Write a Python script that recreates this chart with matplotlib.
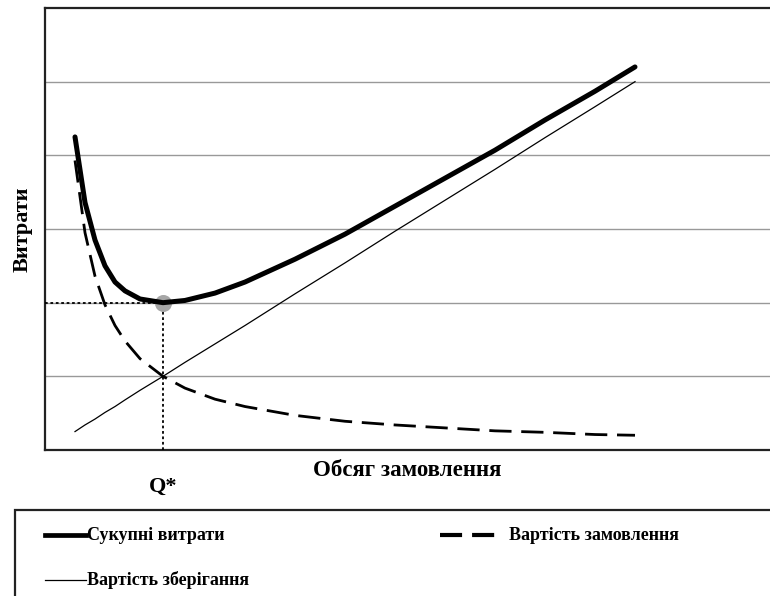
import matplotlib
matplotlib.use("Agg")
import matplotlib.pyplot as plt
from matplotlib.lines import Line2D
from matplotlib.patches import Rectangle

plt.rcParams['font.family'] = ['Liberation Serif', 'DejaVu Serif']
plt.rcParams['font.weight'] = 'bold'

# ---- data ----
order_qty = [30, 40, 50, 60, 70, 80, 95, 118, 140, 170, 200, 250, 300, 350, 400, 450, 500, 550, 590]
order_cost = [3.93, 2.95, 2.36, 1.97, 1.69, 1.48, 1.24, 1.00, 0.84, 0.69, 0.59, 0.47, 0.39, 0.34,
              0.30, 0.26, 0.24, 0.21, 0.20]
storage_cost = [0.25, 0.34, 0.42, 0.51, 0.59, 0.68, 0.81, 1.00, 1.19, 1.44, 1.69, 2.12, 2.54, 2.97,
                3.39, 3.81, 4.24, 4.66, 5.00]
total_cost = [4.25, 3.36, 2.85, 2.50, 2.28, 2.16, 2.05, 2.00, 2.03, 2.13, 2.28, 2.59, 2.93, 3.31,
              3.69, 4.07, 4.48, 4.87, 5.20]
q_star = 118
cost_min = 2.00

labels = ["Сукупні витрати", "Вартість замовлення", "Вартість зберігання"]

W, H = 770, 596
fig = plt.figure(figsize=(W / 100, H / 100), dpi=100)
ax = fig.add_axes([45 / W, 1 - 450 / H, 1 - 45 / W, (450 - 8) / H])

ax.set_xlim(0, 725)
ax.set_ylim(0, 6)
ax.set_yticks([1, 2, 3, 4, 5])
ax.set_xticks([])
ax.tick_params(left=False, labelleft=False)
ax.grid(axis='y', color='#999999', linewidth=1.0)
ax.set_axisbelow(True)
for s in ['left', 'top', 'bottom']:
    ax.spines[s].set_color('#222222')
    ax.spines[s].set_linewidth(1.6)
ax.spines['right'].set_visible(False)

ax.plot(order_qty, storage_cost, color='black', lw=0.9, zorder=3)
ax.plot(order_qty, order_cost, color='black', lw=2.0, linestyle=(0, (8, 3.5)), zorder=3)
ax.scatter([q_star], [cost_min], s=150, color='#a6a6a6', zorder=4, linewidths=0)
ax.plot(order_qty, total_cost, color='black', lw=3.6, solid_capstyle='round',
        solid_joinstyle='round', zorder=5)

ax.plot([0, q_star], [cost_min, cost_min], color='black', lw=1.3, linestyle=(0, (1.5, 1.5)), zorder=3)
ax.plot([q_star, q_star], [0, cost_min], color='black', lw=1.3, linestyle=(0, (1.5, 1.5)), zorder=3)

ax.set_ylabel("Витрати", fontsize=16, fontweight='bold', labelpad=9)
ax.set_xlabel("Обсяг замовлення", fontsize=16.5, fontweight='bold', labelpad=7)
ax.text(q_star, -0.36, "Q*", transform=ax.transData, ha='center', va='top',
        fontsize=16, fontweight='bold', clip_on=False)

# ---- legend (manual, clipped by figure edge like the reference) ----
def fx(px):
    return px / W

def fy(py):
    return 1 - py / H

fig.patches.append(Rectangle((fx(15), fy(640)), fx(800), (640 - 510) / H,
                             transform=fig.transFigure, fill=False,
                             edgecolor='#222222', linewidth=1.6))
fig.lines.append(Line2D([fx(45), fx(86)], [fy(535), fy(535)], transform=fig.transFigure,
                        color='black', lw=3.4))
fig.lines.append(Line2D([fx(440), fx(495)], [fy(535), fy(535)], transform=fig.transFigure,
                        color='black', lw=3.0, linestyle=(0, (5.3, 2.4))))
fig.lines.append(Line2D([fx(45), fx(86)], [fy(580), fy(580)], transform=fig.transFigure,
                        color='black', lw=0.9))
fig.text(fx(87), fy(535), labels[0], fontsize=13, fontweight='bold', va='center', ha='left')
fig.text(fx(509), fy(535), labels[1], fontsize=13, fontweight='bold', va='center', ha='left')
fig.text(fx(87), fy(580), labels[2], fontsize=13, fontweight='bold', va='center', ha='left')

fig.savefig("out.png", dpi=100)
